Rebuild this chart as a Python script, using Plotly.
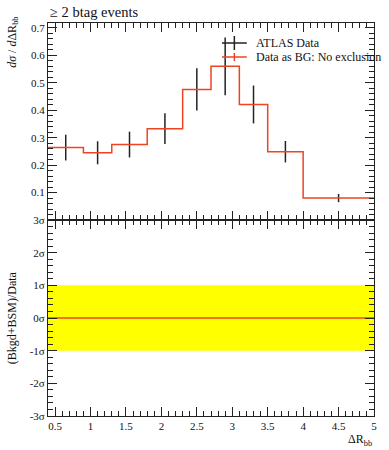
import plotly.graph_objects as go

# ---- data ----
bin_edges = [0.4, 0.9, 1.3, 1.8, 2.3, 2.7, 3.1, 3.5, 4.0, 5.0]
data_values = [0.264, 0.245, 0.275, 0.333, 0.476, 0.560, 0.421, 0.249, 0.080]
data_errors = [0.047, 0.042, 0.047, 0.056, 0.077, 0.105, 0.069, 0.039, 0.015]
bg_values = [0.264, 0.245, 0.275, 0.333, 0.476, 0.560, 0.421, 0.249, 0.080]
sigma_ticks = [-3, -2, -1, 0, 1, 2, 3]
sigma_labels = ["-3σ", "-2σ", "-1σ", "0σ", "1σ", "2σ", "3σ"]
top_ticks = [0.1, 0.2, 0.3, 0.4, 0.5, 0.6, 0.7]
x_ticks = [0.5, 1, 1.5, 2, 2.5, 3, 3.5, 4, 4.5, 5]

centers = [(a + b) / 2 for a, b in zip(bin_edges[:-1], bin_edges[1:])]

FONT = "Liberation Serif"
RED = "#ee4422"
AX = "#222222"

fig = go.Figure()

# yellow 1-sigma band in ratio panel
fig.add_trace(go.Scatter(
    x=[bin_edges[0], bin_edges[-1], bin_edges[-1], bin_edges[0], bin_edges[0]],
    y=[-1, -1, 1, 1, -1], fill="toself", fillcolor="#ffff00",
    line=dict(width=0), mode="lines", xaxis="x2", yaxis="y2",
    showlegend=False, hoverinfo="skip"))
fig.add_trace(go.Scatter(
    x=[bin_edges[0], bin_edges[-1]], y=[0, 0], mode="lines",
    line=dict(color=RED, width=1.5), xaxis="x2", yaxis="y2", showlegend=False))

# data points with error bars
fig.add_trace(go.Scatter(
    x=centers, y=data_values, mode="markers",
    marker=dict(size=1, color=AX),
    error_y=dict(type="data", array=data_errors, color=AX, thickness=1.5, width=0),
    xaxis="x", yaxis="y", showlegend=False))

# BG histogram (step)
fig.add_trace(go.Scatter(
    x=bin_edges, y=bg_values + [bg_values[-1]], mode="lines",
    line=dict(color=RED, width=1.5, shape="hv"),
    xaxis="x", yaxis="y", showlegend=False))

common_x = dict(range=[0.4, 5.0], showline=True, linecolor=AX, linewidth=1,
                mirror="allticks", ticks="inside", ticklen=9, tickcolor=AX,
                tickvals=x_ticks, showgrid=False, zeroline=False,
                minor=dict(dtick=0.1, tick0=0, ticks="inside", ticklen=5, tickcolor=AX))

fig.update_layout(
    width=389, height=450,
    margin=dict(l=48, r=13, t=23, b=34),
    paper_bgcolor="white", plot_bgcolor="white",
    font=dict(family=FONT, size=11, color="#111"),
    xaxis=dict(**common_x, domain=[0, 1], anchor="y", showticklabels=False),
    yaxis=dict(domain=[0.4987, 1], range=[0, 0.718], showline=True, linecolor=AX,
               mirror="allticks", ticks="inside", ticklen=9, tickcolor=AX,
               tickvals=top_ticks, ticktext=[f"{v:.1f}" for v in top_ticks],
               showgrid=False, zeroline=False,
               minor=dict(dtick=0.02, tick0=0, ticks="inside", ticklen=5, tickcolor=AX)),
    xaxis2=dict(**common_x, domain=[0, 1], anchor="y2", showticklabels=True,
                ticktext=[str(v) for v in x_ticks]),
    yaxis2=dict(domain=[0, 0.4987], range=[-3, 3], showline=True, linecolor=AX,
                mirror="allticks", ticks="inside", ticklen=9, tickcolor=AX,
                tickvals=sigma_ticks, ticktext=sigma_labels,
                showgrid=False, zeroline=False,
                minor=dict(dtick=0.2, tick0=0, ticks="inside", ticklen=5, tickcolor=AX)),
    showlegend=False,
)

def px_x(p):
    return (p - 48) / 328.0

def px_y(p):
    return (416 - p) / 393.0

# title
fig.add_annotation(text="≥ 2 btag events", xref="paper", yref="paper",
                   x=0, y=1, xanchor="left", yanchor="bottom", yshift=1,
                   showarrow=False, font=dict(family=FONT, size=14.5, color="#111"))
# y titles
fig.add_annotation(text="<i>dσ</i> / <i>d</i>ΔR<sub>bb</sub>", xref="paper", yref="paper",
                   x=px_x(12), y=1.02, xanchor="center", yanchor="top", textangle=-90,
                   showarrow=False, font=dict(family=FONT, size=12, color="#111"))
fig.add_annotation(text="(Bkgd+BSM)/Data", xref="paper", yref="paper",
                   x=px_x(12), y=px_y(318), xanchor="center", yanchor="middle", textangle=-90,
                   showarrow=False, font=dict(family=FONT, size=12, color="#111"))
# x title
fig.add_annotation(text="ΔR<sub>bb</sub>", xref="paper", yref="paper",
                   x=1, y=px_y(440), xanchor="right", yanchor="middle",
                   showarrow=False, font=dict(family=FONT, size=12, color="#111"))

# legend (manual)
lx0, lx1, lxm = px_x(223), px_x(248), px_x(235.5)
for py, col, label, vh in [(43, AX, "ATLAS Data", 7), (57, RED, "Data as BG: No exclusion", 4)]:
    fig.add_shape(type="line", xref="paper", yref="paper", x0=lx0, x1=lx1,
                  y0=px_y(py), y1=px_y(py), line=dict(color=col, width=1.5))
    fig.add_shape(type="line", xref="paper", yref="paper", x0=lxm, x1=lxm,
                  y0=px_y(py - vh), y1=px_y(py + vh), line=dict(color=col, width=1.5))
    fig.add_annotation(text=label, xref="paper", yref="paper", x=px_x(255), y=px_y(py),
                       xanchor="left", yanchor="middle", showarrow=False,
                       font=dict(family=FONT, size=12, color="#111"))

fig.write_html("out.html", config={"displayModeBar": False},
               post_script="document.body.style.margin='0';document.body.style.overflow='hidden';")
